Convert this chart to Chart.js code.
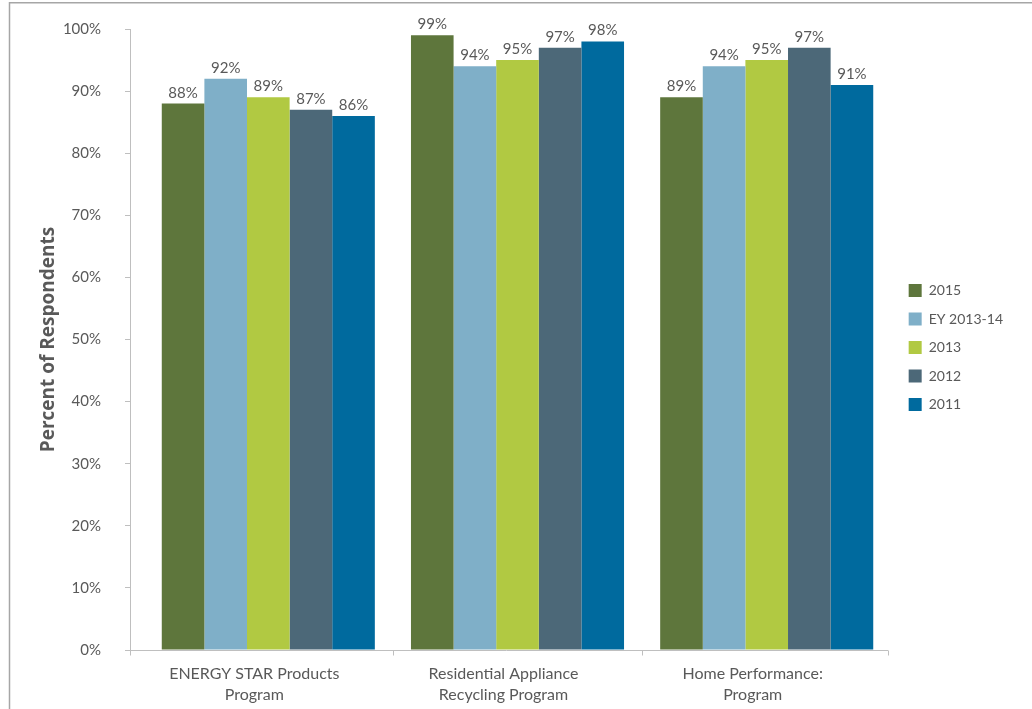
<!DOCTYPE html>
<html>
<head>
<meta charset="utf-8">
<script src="https://cdn.jsdelivr.net/npm/chart.js@4/dist/chart.umd.min.js"></script>
<style>
  html, body { margin: 0; padding: 0; background: #ffffff; }
  #wrap { width: 1032px; height: 709px; position: relative; }
</style>
</head>
<body>
<div id="wrap"><canvas id="chart" width="1032" height="709"></canvas></div>
<script>
// Program categories (two-line labels)
const categories = [
  ['ENERGY STAR Products', 'Program'],
  ['Residential Appliance', 'Recycling Program'],
  ['Home Performance:', 'Program']
];

// Percent of respondents by survey year
const seriesNames = ['2015', 'EY 2013-14', '2013', '2012', '2011'];
const values2015   = [88, 99, 89];
const valuesEY1314 = [92, 94, 94];
const values2013   = [89, 95, 95];
const values2012   = [87, 97, 97];
const values2011   = [86, 98, 91];
const seriesValues = [values2015, valuesEY1314, values2013, values2012, values2011];
const seriesColors = ['#5E763C', '#7FAFC8', '#B1C942', '#4C6878', '#006A9E'];

// y-axis ticks
const yTicks = [0, 10, 20, 30, 40, 50, 60, 70, 80, 90, 100];

const TEXT = '#595959';
const AXIS = '#bfbfbf';
const FONT = 'Lato, "Open Sans", sans-serif';

// x range: left edge sits on the y axis, category boundaries at .5
const xStart = -0.555;
const xEnd = 2.487;
const unitPx = 249.2;

const datasets = seriesNames.map((name, s) => ({
  label: name,
  data: seriesValues[s].map((v, i) => ({ x: i, y: v })),
  backgroundColor: seriesColors[s],
  borderWidth: 0,
  categoryPercentage: 0.855,
  barPercentage: 1.0
}));

// Frame, bottom axis with boundary ticks, and value labels
const decorations = {
  id: 'decorations',
  beforeDraw(chart) {
    const ctx = chart.ctx;
    ctx.save();
    ctx.strokeStyle = '#a6a6a6';
    ctx.lineWidth = 1.5;
    ctx.beginPath();
    ctx.moveTo(9, 2.75);
    ctx.lineTo(chart.width, 2.75);
    ctx.moveTo(9.5, 2);
    ctx.lineTo(9.5, chart.height);
    ctx.stroke();
    ctx.restore();
  },
  afterDraw(chart) {
    const ctx = chart.ctx;
    const xs = chart.scales.x;
    const ys = chart.scales.y;
    const y0 = Math.round(ys.getPixelForValue(0)) + 0.5;
    ctx.save();
    ctx.strokeStyle = AXIS;
    ctx.lineWidth = 1;
    ctx.beginPath();
    ctx.moveTo(chart.chartArea.left - 5, y0);
    ctx.lineTo(xs.getPixelForValue(xEnd), y0);
    const bounds = [xStart, 0.5, 1.5, xEnd];
    bounds.forEach(b => {
      const px = Math.round(xs.getPixelForValue(b)) + 0.5;
      ctx.moveTo(px, y0);
      ctx.lineTo(px, y0 + 5);
    });
    ctx.stroke();
    ctx.restore();
  },
  afterDatasetsDraw(chart) {
    const ctx = chart.ctx;
    ctx.save();
    ctx.fillStyle = TEXT;
    ctx.font = '15px ' + FONT;
    ctx.textAlign = 'center';
    ctx.textBaseline = 'alphabetic';
    chart.data.datasets.forEach((ds, di) => {
      const meta = chart.getDatasetMeta(di);
      meta.data.forEach((bar, i) => {
        ctx.fillText(ds.data[i].y + '%', bar.x, bar.y - 6);
      });
    });
    ctx.restore();
  }
};

new Chart(document.getElementById('chart'), {
  type: 'bar',
  data: { datasets },
  options: {
    responsive: false,
    animation: false,
    layout: { padding: { top: 29, left: 0, right: 19, bottom: 0 } },
    scales: {
      x: {
        type: 'linear',
        offset: false,
        bounds: 'data',
        afterDataLimits(scale) {
          scale.min = xStart;
          scale.max = xStart + scale.width / unitPx;
        },
        afterBuildTicks(scale) {
          scale.ticks = categories.map((c, i) => ({ value: i }));
        },
        afterFit(scale) { scale.height = 59; },
        grid: { display: false, offset: false },
        border: { display: false },
        ticks: {
          autoSkip: false,
          maxRotation: 0,
          padding: 5,
          labelOffset: -14,
          color: TEXT,
          font: { family: FONT, size: 16, lineHeight: '21px' },
          callback: (v) => categories[v]
        }
      },
      y: {
        min: 0,
        max: 100,
        afterBuildTicks(scale) {
          scale.ticks = yTicks.map(v => ({ value: v }));
        },
        afterFit(scale) {
          scale.width = 130;
          scale.paddingTop = 0;
          scale.paddingBottom = 0;
        },
        grid: {
          display: true,
          drawOnChartArea: false,
          drawTicks: true,
          tickLength: 5,
          color: AXIS
        },
        border: { display: true, color: AXIS, width: 1 },
        ticks: {
          padding: 24,
          color: TEXT,
          font: { family: FONT, size: 15 },
          callback: (v) => v + '%'
        },
        title: {
          display: true,
          text: 'Percent of Respondents',
          color: TEXT,
          font: { family: '"Open Sans", sans-serif', size: 19, weight: 'bold' },
          padding: { top: 37.5, bottom: 0 }
        }
      }
    },
    plugins: {
      legend: {
        position: 'right',
        fullSize: false,
        align: 'center',
        title: { display: true, text: ' ', font: { size: 10 }, padding: 2 },
        labels: {
          boxWidth: 13,
          boxHeight: 13,
          padding: 14.5,
          color: TEXT,
          font: { family: FONT, size: 14 }
        }
      },
      tooltip: { enabled: false }
    }
  },
  plugins: [decorations]
});
</script>
</body>
</html>
